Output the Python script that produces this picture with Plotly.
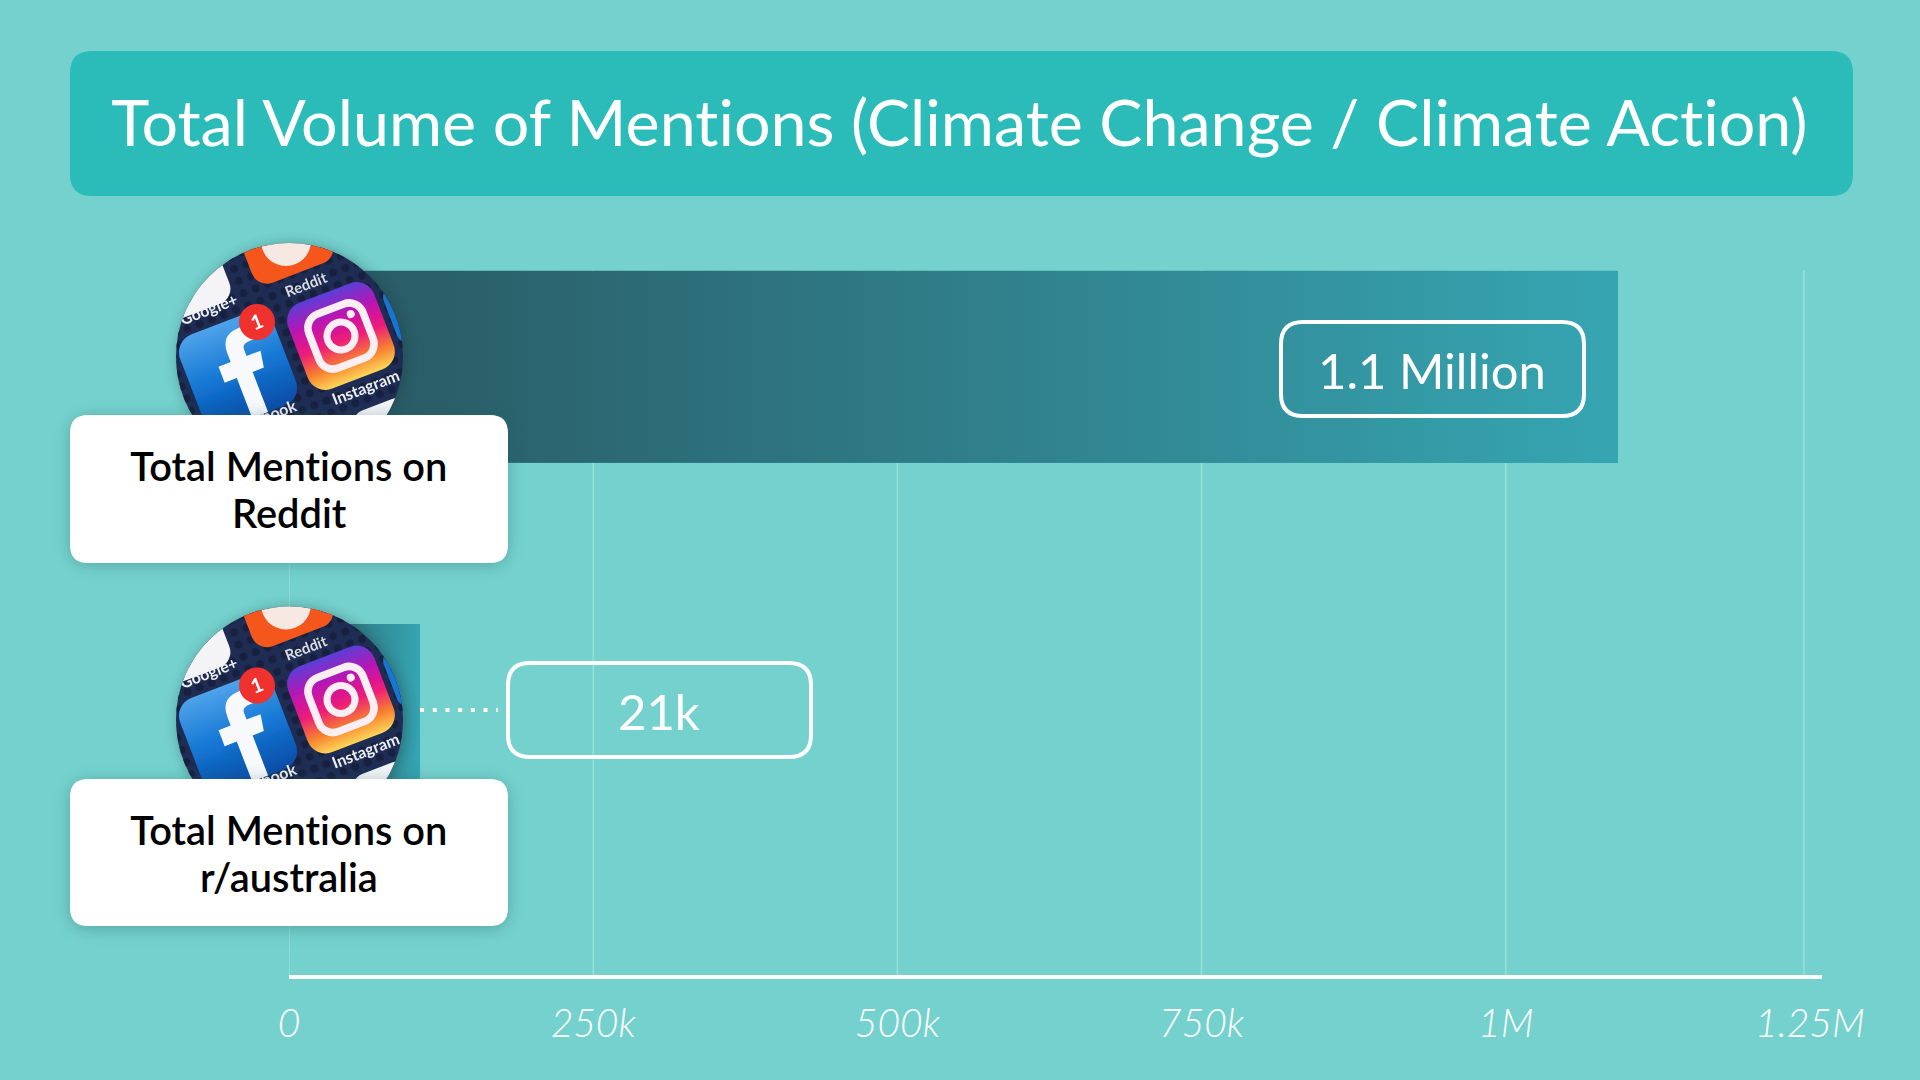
import base64
import plotly.graph_objects as go

# chart values
categories = ["Total Mentions on<br>Reddit", "Total Mentions on<br>r/australia"]
mention_values = [1092000, 107700]
value_labels = ["1.1 Million", "21k"]
tick_values = [0, 250000, 500000, 750000, 1000000, 1250000]
tick_labels = ["0", "250k", "500k", "750k", "1M", "1.25M"]
grid_values = [0, 250000, 500000, 750000, 1000000, 1245000]
title_text = "Total Volume of Mentions (Climate Change / Climate Action)"
y_positions = [1, 0]

BG = "#75D1CD"
TITLE_BG = "#2BBCB9"
BAR_DARK = "#2A5E68"
BAR_LIGHT = "#36A5B2"
FONT = "Lato"

# plot area in page pixels
L, R, T, B = 289, 1822, 270, 975
PX_PER_UNIT = 353.3
BAR_WIDTH = 0.5435


def paper_x(px):
    return (px - L) / (R - L)


def paper_y(py):
    return (B - py) / (B - T)


def round_rect(x0, y0, x1, y1, r):
    # rounded box as svg path in paper coordinates
    xa, xb, xc, xd = [paper_x(v) for v in (x0, x0 + r, x1 - r, x1)]
    ya, yb, yc, yd = [paper_y(v) for v in (y0, y0 + r, y1 - r, y1)]
    return (f"M {xb} {ya} L {xc} {ya} Q {xd} {ya} {xd} {yb} L {xd} {yc} "
            f"Q {xd} {yd} {xc} {yd} L {xb} {yd} Q {xa} {yd} {xa} {yc} "
            f"L {xa} {yb} Q {xa} {ya} {xb} {ya} Z")


def svg_uri(svg):
    return "data:image/svg+xml;base64," + base64.b64encode(svg.encode()).decode()


# the phone screen photo in the round badge, each app tilted about its own centre
PHOTO_SVG = """<svg xmlns="http://www.w3.org/2000/svg" width="287" height="287" viewBox="-30 -30 287 287">
<defs>
<clipPath id="c"><circle cx="113.5" cy="113.5" r="113.5"/></clipPath>
<filter id="s" x="-30%" y="-30%" width="160%" height="160%"><feGaussianBlur stdDeviation="7"/></filter>
<filter id="soft"><feGaussianBlur stdDeviation="0.6"/></filter>
<linearGradient id="fb" x1="0" y1="0" x2="0" y2="1"><stop offset="0" stop-color="#4FA3EA"/><stop offset="0.5" stop-color="#1478D4"/><stop offset="1" stop-color="#0A4CA6"/></linearGradient>
<linearGradient id="ig" x1="0" y1="0" x2="0" y2="1"><stop offset="0" stop-color="#5A3FD8"/><stop offset="0.3" stop-color="#C013B0"/><stop offset="0.55" stop-color="#EE1C78"/><stop offset="0.8" stop-color="#F7832E"/><stop offset="1" stop-color="#FDD65A"/></linearGradient>
<pattern id="dots" width="13" height="13" patternUnits="userSpaceOnUse" patternTransform="rotate(-21)"><circle cx="6" cy="6" r="4" fill="#17213F"/></pattern>
</defs>
<circle cx="116" cy="115" r="113" fill="#1c3438" opacity="0.45" filter="url(#s)"/>
<g clip-path="url(#c)">
<rect x="0" y="0" width="227" height="227" fill="#1F2D54"/>
<rect x="0" y="0" width="227" height="227" fill="url(#dots)"/>
<g filter="url(#soft)">
<!-- reddit -->
<rect x="68" y="-30" width="86" height="62" rx="16" fill="#F4561E" transform="rotate(-21 111 2)"/>
<circle cx="110" cy="-2" r="25" fill="#F7E9E2"/>
<!-- google plus, white tile and the red corner -->
<rect x="-22" y="6" width="72" height="64" rx="16" fill="#F4F4F6" transform="rotate(-21 14 38)"/>
<!-- instagram -->
<g transform="rotate(-21 165 93)">
<rect x="119" y="47" width="92" height="92" rx="19" fill="url(#ig)"/>
<rect x="136" y="64" width="58" height="58" rx="15" fill="none" stroke="#FBEFF3" stroke-width="7.5"/>
<circle cx="165" cy="93" r="14" fill="none" stroke="#FBEFF3" stroke-width="7"/>
<circle cx="182" cy="76" r="4" fill="#FBEFF3"/>
</g>
<!-- facebook -->
<g transform="rotate(-21 62 127)">
<rect x="12" y="77" width="100" height="100" rx="19" fill="url(#fb)"/>
<path d="M58 177 L58 134 L45 134 L45 117 L58 117 L58 108 Q58 88 78 88 L90 88 L90 104 L83 104 Q75 104 75 110 L75 117 L90 117 L87 134 L75 134 L75 177 Z" fill="#F7F9FC"/>
</g>
<circle cx="81" cy="79" r="18" fill="#F0302F"/>
<text x="81" y="86" font-family="Lato" font-weight="700" font-size="20" fill="#fff" text-anchor="middle" transform="rotate(-21 81 79)">1</text>
<!-- app names -->
<text x="130" y="47" font-family="Lato" font-weight="700" font-size="15" fill="#D8DBE2" text-anchor="middle" transform="rotate(-21 130 42)">Reddit</text>
<text x="33" y="72" font-family="Lato" font-weight="700" font-size="16" fill="#EDEFF3" text-anchor="middle" transform="rotate(-21 33 67)">Google+</text>
<text x="190" y="150" font-family="Lato" font-weight="700" font-size="16" fill="#EDEFF3" text-anchor="middle" transform="rotate(-21 190 145)">Instagram</text>
<text x="88" y="180" font-family="Lato" font-weight="700" font-size="16" fill="#EDEFF3" text-anchor="middle" transform="rotate(-21 88 175)">Facebook</text>
<rect x="180" y="160" width="60" height="50" rx="14" fill="#F4F4F6" transform="rotate(-21 210 185)"/>
<rect x="213" y="38" width="40" height="60" rx="12" fill="#1476D2" transform="rotate(-21 233 68)"/>
</g>
</g>
</svg>"""

SHADOW_SVG = """<svg xmlns="http://www.w3.org/2000/svg" width="500" height="210" viewBox="0 0 500 210">
<defs><filter id="b" x="-10%" y="-20%" width="120%" height="140%"><feGaussianBlur stdDeviation="8"/></filter></defs>
<rect x="31" y="31" width="438" height="148" rx="18" fill="#1e5a5a" opacity="0.35" filter="url(#b)"/>
</svg>"""

fig = go.Figure()

# plain bars from the data
fig.add_trace(go.Bar(
    y=y_positions,
    x=mention_values,
    orientation="h",
    width=BAR_WIDTH,
    marker=dict(color=BAR_LIGHT, line=dict(width=0)),
    hovertext=[c.replace("<br>", " ") for c in categories],
    hoverinfo="text+x",
))

# gradient laid over each bar, plotly bars have no gradient fill
for yp, val in zip(y_positions, mention_values):
    y0, y1 = yp - BAR_WIDTH / 2, yp + BAR_WIDTH / 2
    fig.add_trace(go.Scatter(
        x=[0, val, val, 0, 0],
        y=[y0, y0, y1, y1, y0],
        mode="none",
        fill="toself",
        fillgradient=dict(type="horizontal",
                          colorscale=[[0, BAR_DARK], [0.1, BAR_DARK], [1, BAR_LIGHT]],
                          start=0, stop=val),
        hoverinfo="skip",
    ))

shapes = []
for g in grid_values:
    shapes.append(dict(type="line", xref="x", yref="paper", x0=g, x1=g, y0=0, y1=1,
                       line=dict(color="rgba(255,255,255,0.28)", width=1.5), layer="below"))

# title banner
shapes.append(dict(type="path", xref="paper", yref="paper",
                   path=round_rect(70, 51, 1853, 196, 22),
                   fillcolor=TITLE_BG, line=dict(width=0), layer="below"))

# dotted leader from the small bar to its label
shapes.append(dict(type="line", xref="x", yref="paper", x0=mention_values[1], x1=(498 - L) / (R - L) * 1259900,
                   y0=paper_y(710), y1=paper_y(710),
                   line=dict(color="white", width=4, dash="4px,8.7px")))

# value boxes
value_boxes = [(1281, 322, 1584, 416), (508, 663, 811, 757)]
for box in value_boxes:
    shapes.append(dict(type="path", xref="paper", yref="paper",
                       path=round_rect(*box, 22),
                       line=dict(color="white", width=4), fillcolor="rgba(0,0,0,0)"))

# white cards
cards = [(70, 415, 508, 563), (70, 779, 508, 926)]
for box in cards:
    shapes.append(dict(type="path", xref="paper", yref="paper",
                       path=round_rect(*box, 18),
                       fillcolor="white", line=dict(width=0)))

images = []
for cy in (356.5, 720):
    images.append(dict(source=svg_uri(PHOTO_SVG), xref="paper", yref="paper",
                       x=paper_x(289.5 - 143.5), y=paper_y(cy - 143.5),
                       sizex=287 / (R - L), sizey=287 / (B - T),
                       xanchor="left", yanchor="top", sizing="stretch", layer="above"))
for box in cards:
    images.append(dict(source=svg_uri(SHADOW_SVG), xref="paper", yref="paper",
                       x=paper_x(box[0] - 31), y=paper_y(box[1] - 29),
                       sizex=500 / (R - L), sizey=210 / (B - T),
                       xanchor="left", yanchor="top", sizing="stretch", layer="above"))

annotations = [dict(text=title_text, xref="paper", yref="paper",
                    x=paper_x(107.5), y=paper_y(120.5), xanchor="left", yanchor="middle",
                    showarrow=False, font=dict(family=FONT, size=64.6, color="white", weight=400))]

# card labels, one annotation per line to hold the tight line spacing
for box, label in zip(cards, categories):
    for line, offset in zip(label.split("<br>"), (-23.5, 23.5)):
        annotations.append(dict(text=line, xref="paper", yref="paper",
                                x=paper_x(289), y=paper_y(box[1] + 74 + offset - 0.5),
                                xanchor="center", yanchor="middle", showarrow=False,
                                font=dict(family=FONT, size=39.8, color="black", weight=600)))

for box, label in zip(value_boxes, value_labels):
    annotations.append(dict(text=label, xref="paper", yref="paper",
                            x=paper_x((box[0] + box[2]) / 2 - 1), y=paper_y((box[1] + box[3]) / 2 + 1),
                            xanchor="center", yanchor="middle", showarrow=False,
                            font=dict(family=FONT, size=49, color="white", weight=400)))

fig.update_layout(
    width=1920,
    height=1080,
    paper_bgcolor=BG,
    plot_bgcolor=BG,
    showlegend=False,
    bargap=0,
    margin=dict(l=L, r=1920 - R, t=T, b=1080 - B, pad=0),
    xaxis=dict(
        range=[0, 1259900],
        tickmode="array",
        tickvals=tick_values,
        ticktext=tick_labels,
        showgrid=False,
        zeroline=False,
        showline=True,
        linecolor="white",
        linewidth=4,
        ticks="outside",
        ticklen=11,
        tickcolor="rgba(0,0,0,0)",
        tickfont=dict(family=FONT, size=39, color="white", style="italic", weight=300),
    ),
    yaxis=dict(
        range=[-(B - 720) / PX_PER_UNIT, 1 + (366.7 - T) / PX_PER_UNIT],
        visible=False,
    ),
    shapes=shapes,
    images=images,
    annotations=annotations,
)

# drop the page margin so the figure fills the window, and Lato's ti ligature
page_fix = ("document.body.style.margin='0';"
            "var st=document.createElement('style');"
            "st.textContent='text{font-variant-ligatures:none !important}';"
            "document.head.appendChild(st);")
fig.write_html("out.html", post_script=page_fix, config={"displayModeBar": False})
